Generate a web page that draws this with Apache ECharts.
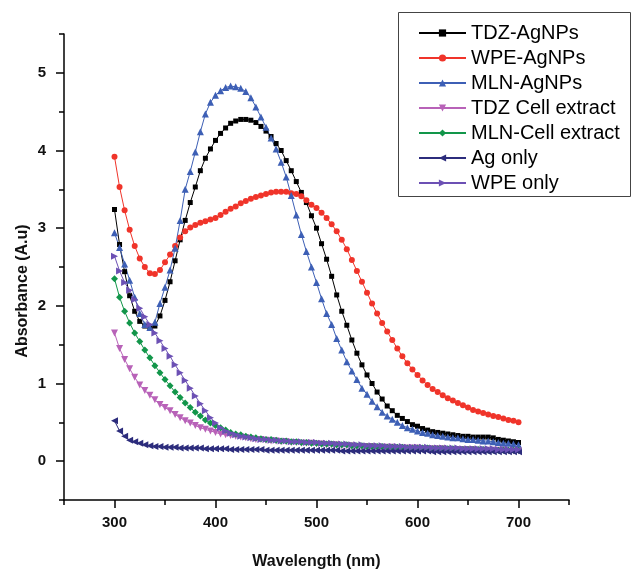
<!DOCTYPE html>
<html>
<head>
<meta charset="utf-8">
<script src="https://cdn.jsdelivr.net/npm/echarts@6/dist/echarts.min.js"></script>
<style>
html,body{margin:0;padding:0;background:#fff;}
#chart{width:632px;height:575px;}
</style>
</head>
<body>
<div id="chart"></div>
<script>
var wavelengths = [300,305,310,315,320,325,330,335,340,345,350,355,360,365,370,375,380,385,390,395,400,405,410,415,420,425,430,435,440,445,450,455,460,465,470,475,480,485,490,495,500,505,510,515,520,525,530,535,540,545,550,555,560,565,570,575,580,585,590,595,600,605,610,615,620,625,630,635,640,645,650,655,660,665,670,675,680,685,690,695,700];

var tdzAgNPs = [3.24,2.79,2.44,2.13,1.93,1.80,1.74,1.71,1.74,1.87,2.07,2.31,2.58,2.85,3.10,3.33,3.53,3.74,3.90,4.02,4.13,4.22,4.29,4.35,4.38,4.40,4.40,4.39,4.36,4.31,4.25,4.18,4.09,4.00,3.87,3.74,3.60,3.46,3.33,3.16,3.00,2.80,2.60,2.38,2.14,1.93,1.75,1.56,1.39,1.24,1.11,1.00,0.89,0.80,0.71,0.65,0.59,0.55,0.51,0.47,0.45,0.42,0.40,0.38,0.37,0.36,0.35,0.34,0.33,0.32,0.32,0.31,0.31,0.31,0.31,0.30,0.28,0.27,0.26,0.25,0.24];

var wpeAgNPs = [3.92,3.53,3.23,2.98,2.77,2.61,2.50,2.42,2.41,2.46,2.56,2.66,2.77,2.88,2.96,3.01,3.04,3.07,3.09,3.11,3.13,3.17,3.21,3.25,3.28,3.32,3.35,3.38,3.40,3.42,3.44,3.46,3.47,3.47,3.47,3.45,3.44,3.41,3.36,3.30,3.26,3.20,3.13,3.05,2.96,2.85,2.73,2.59,2.45,2.31,2.17,2.03,1.90,1.78,1.67,1.56,1.45,1.35,1.26,1.18,1.11,1.04,0.98,0.93,0.89,0.85,0.81,0.78,0.75,0.72,0.69,0.66,0.64,0.62,0.60,0.58,0.57,0.55,0.53,0.52,0.50];

var mlnAgNPs = [2.94,2.75,2.54,2.33,2.11,1.90,1.76,1.72,1.79,2.03,2.24,2.46,2.74,3.10,3.50,3.73,3.98,4.24,4.47,4.62,4.71,4.77,4.81,4.83,4.82,4.80,4.76,4.68,4.56,4.43,4.30,4.16,4.02,3.85,3.66,3.42,3.17,2.92,2.70,2.50,2.30,2.09,1.90,1.76,1.58,1.43,1.28,1.16,1.05,0.94,0.86,0.77,0.70,0.63,0.58,0.54,0.50,0.46,0.43,0.41,0.39,0.37,0.36,0.34,0.33,0.32,0.31,0.30,0.30,0.29,0.28,0.28,0.27,0.26,0.26,0.25,0.24,0.23,0.23,0.22,0.21];

var tdzCell = [1.65,1.45,1.31,1.19,1.08,0.98,0.91,0.85,0.79,0.73,0.69,0.65,0.60,0.56,0.52,0.49,0.46,0.43,0.41,0.39,0.37,0.35,0.34,0.33,0.32,0.31,0.30,0.29,0.28,0.28,0.27,0.26,0.26,0.25,0.25,0.24,0.24,0.23,0.23,0.23,0.22,0.22,0.21,0.21,0.21,0.20,0.20,0.20,0.19,0.19,0.19,0.19,0.18,0.18,0.18,0.18,0.17,0.17,0.17,0.17,0.17,0.16,0.16,0.16,0.16,0.16,0.15,0.15,0.15,0.15,0.15,0.15,0.14,0.14,0.14,0.14,0.14,0.14,0.13,0.13,0.13];

var mlnCell = [2.35,2.11,1.93,1.78,1.65,1.54,1.43,1.33,1.23,1.14,1.05,0.97,0.89,0.82,0.75,0.69,0.63,0.58,0.53,0.49,0.46,0.43,0.40,0.37,0.35,0.34,0.32,0.31,0.30,0.29,0.28,0.28,0.27,0.26,0.26,0.25,0.25,0.24,0.24,0.23,0.23,0.22,0.22,0.22,0.21,0.21,0.21,0.20,0.20,0.20,0.19,0.19,0.19,0.19,0.18,0.18,0.18,0.18,0.17,0.17,0.17,0.17,0.17,0.16,0.16,0.16,0.16,0.16,0.15,0.15,0.15,0.15,0.15,0.15,0.14,0.14,0.14,0.14,0.14,0.14,0.14];

var agOnly = [0.52,0.39,0.32,0.27,0.25,0.23,0.21,0.20,0.19,0.19,0.18,0.18,0.18,0.17,0.17,0.17,0.17,0.17,0.16,0.16,0.16,0.16,0.16,0.15,0.15,0.15,0.15,0.15,0.15,0.15,0.14,0.14,0.14,0.14,0.14,0.14,0.14,0.14,0.14,0.14,0.14,0.14,0.14,0.14,0.14,0.13,0.13,0.13,0.13,0.13,0.13,0.13,0.13,0.13,0.13,0.13,0.13,0.13,0.13,0.13,0.13,0.13,0.13,0.12,0.12,0.12,0.12,0.12,0.12,0.12,0.12,0.12,0.12,0.12,0.12,0.12,0.12,0.12,0.12,0.12,0.12];

var wpeOnly = [2.64,2.45,2.30,2.20,2.08,1.97,1.86,1.76,1.65,1.55,1.45,1.35,1.24,1.14,1.04,0.94,0.84,0.74,0.65,0.56,0.49,0.43,0.39,0.36,0.34,0.32,0.31,0.30,0.29,0.28,0.28,0.27,0.27,0.26,0.26,0.25,0.25,0.25,0.24,0.24,0.24,0.23,0.23,0.23,0.22,0.22,0.22,0.21,0.21,0.21,0.20,0.20,0.20,0.20,0.19,0.19,0.19,0.19,0.18,0.18,0.18,0.18,0.18,0.17,0.17,0.17,0.17,0.17,0.17,0.16,0.16,0.16,0.16,0.16,0.16,0.16,0.15,0.15,0.15,0.15,0.15];

var seriesNames = ['TDZ-AgNPs','WPE-AgNPs','MLN-AgNPs','TDZ Cell extract','MLN-Cell extract','Ag only','WPE only'];
var xLabelValues = [300,400,500,600,700];
var yLabelValues = [0,1,2,3,4,5];

function pairs(vals){ return wavelengths.map(function(w,i){ return [w, vals[i]]; }); }

var FONT = '"Liberation Sans", Arial, Helvetica, sans-serif';
var styles = [
  {data: tdzAgNPs, color:'#000000', symbol:'rect', size:5, rot:0},
  {data: wpeAgNPs, color:'#f0342a', symbol:'circle', size:6, rot:0},
  {data: mlnAgNPs, color:'#3d5fb5', symbol:'triangle', size:7, rot:0},
  {data: tdzCell, color:'#b862b8', symbol:'triangle', size:7, rot:180},
  {data: mlnCell, color:'#12964a', symbol:'diamond', size:7, rot:0},
  {data: agOnly, color:'#2c2c7c', symbol:'triangle', size:7, rot:90},
  {data: wpeOnly, color:'#6c50b4', symbol:'triangle', size:7, rot:-90}
];

var series = styles.map(function(s, i){
  return {
    name: seriesNames[i], type:'line', xAxisIndex:0, yAxisIndex:0,
    data: pairs(s.data), symbol: s.symbol, symbolSize: s.size, symbolRotate: s.rot,
    showAllSymbol: true,
    lineStyle:{color:s.color, width:1}, itemStyle:{color:s.color},
    emphasis:{disabled:true}
  };
});

var chart = echarts.init(document.getElementById('chart'), null, {renderer:'canvas'});
chart.setOption({
  animation:false,
  backgroundColor:'#ffffff',
  grid:{left:64, right:63, top:34, bottom:71, containLabel:false},
  xAxis:[{
    type:'value', min:250, max:750, interval:50, position:'bottom',
    axisLine:{show:true, onZero:false, lineStyle:{color:'#000', width:1.5}},
    axisTick:{show:true, inside:false, length:5, lineStyle:{color:'#000', width:1.5}},
    axisLabel:{show:true, margin:15, color:'#111', fontFamily:FONT, fontSize:15, fontWeight:'bold',
      formatter:function(v){ return xLabelValues.indexOf(v) >= 0 ? String(v) : ''; }},
    splitLine:{show:false},
    name:'Wavelength (nm)', nameLocation:'middle', nameGap:54,
    nameTextStyle:{color:'#111', fontFamily:FONT, fontSize:16, fontWeight:'bold'}
  },{
    type:'value', min:250, max:750, interval:50, position:'bottom', offset:0,
    axisLine:{show:false, onZero:false},
    axisTick:{show:true, inside:false, length:8, customValues:xLabelValues, lineStyle:{color:'#000', width:1.5}},
    axisLabel:{show:false}, splitLine:{show:false}
  }],
  yAxis:[{
    type:'value', min:-0.5, max:5.5, interval:0.5, position:'left',
    axisLine:{show:true, onZero:false, lineStyle:{color:'#000', width:1.5}},
    axisTick:{show:true, inside:false, length:5, lineStyle:{color:'#000', width:1.5}},
    axisLabel:{show:true, margin:18, color:'#111', fontFamily:FONT, fontSize:15, fontWeight:'bold',
      formatter:function(v){ return yLabelValues.indexOf(v) >= 0 ? String(v) : ''; }},
    splitLine:{show:false}
  },{
    type:'value', min:-0.5, max:5.5, interval:0.5, position:'left', offset:0,
    axisLine:{show:false, onZero:false},
    axisTick:{show:true, inside:false, length:8, customValues:yLabelValues, lineStyle:{color:'#000', width:1.5}},
    axisLabel:{show:false}, splitLine:{show:false}
  }],
  legend:{
    orient:'vertical', left:418, top:23, padding:0,
    itemWidth:47, itemHeight:9, itemGap:5,
    data: seriesNames,
    textStyle:{color:'#000', fontFamily:FONT, fontSize:20, lineHeight:20},
    selectedMode:false
  },
  graphic:[
    {type:'rect', z:-1, shape:{x:398.5, y:12.5, width:232, height:184},
     style:{fill:'#fff', stroke:'#444', lineWidth:1}},
    {type:'text', x:23, y:291, rotation:Math.PI/2,
     style:{text:'Absorbance (A.u)', x:0, y:0, textAlign:'center', textVerticalAlign:'middle',
       font:'bold 16px ' + FONT, fill:'#111'}}
  ],
  series: series
});
</script>
</body>
</html>
